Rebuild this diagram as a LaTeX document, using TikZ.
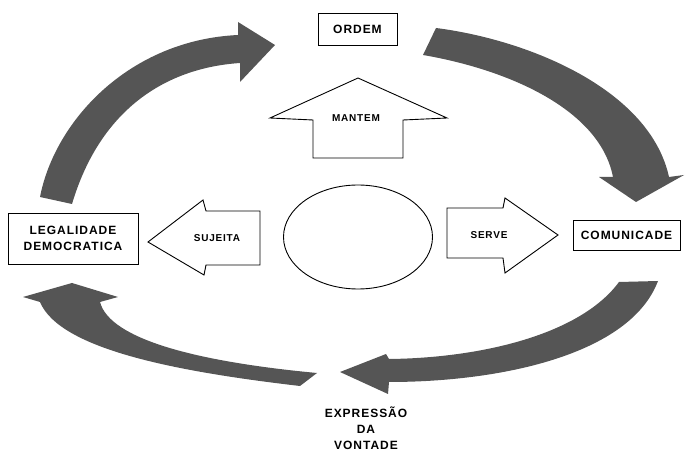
\documentclass[tikz,border=0pt]{standalone}
\usepackage{fontspec}
\setmainfont{Liberation Sans}[LetterSpace=8]
\usetikzlibrary{shapes.geometric}
\definecolor{arrgray}{RGB}{85,85,85}
\tikzset{
  bigarrow/.style={fill=arrgray,draw=none},
  hollow/.style={draw=black,line width=0.9pt,fill=white,line join=miter},
  boxnode/.style={draw=black,line width=0.9pt,inner sep=0pt,align=center,font=\fontsize{12}{16}\selectfont\bfseries},
  lbl/.style={inner sep=0pt,align=center,font=\fontsize{10}{12}\selectfont\bfseries},
  caption/.style={inner sep=0pt,align=center,font=\fontsize{12}{16}\selectfont\bfseries}
}
\begin{document}
\begin{tikzpicture}[x=1pt,y=-1pt]
\useasboundingbox (0,0) rectangle (686,454);
% boxes
\node[boxnode,minimum width=79pt,minimum height=32pt] (ordem) at (357.5,29) {ORDEM};
\node[boxnode,minimum width=130pt,minimum height=51pt] (legal) at (73,238.5) {LEGALIDADE\\DEMOCRATICA};
\node[boxnode,minimum width=107pt,minimum height=30pt] (comun) at (626.5,235) {COMUNICADE};
\node[caption] (expr) at (366,428) {EXPRESSÃO\\DA\\VONTADE};
% centre ellipse
\node[ellipse,draw=black,line width=0.9pt,minimum width=149pt,minimum height=104pt] (ell) at (358,237) {};
% hollow arrows
\draw[hollow] (358,78) -- (447,118) -- (403,120) -- (403,158) -- (313,158) -- (313,120) -- (270,118) -- cycle;
\node[lbl] (mantem) at (356,118) {MANTEM};
\draw[hollow] (148,242) -- (203,200) -- (206,211) -- (260,211) -- (260,265) -- (206,265) -- (204,275) -- cycle;
\node[lbl] (sujeita) at (217,238) {SUJEITA};
\draw[hollow] (447,208) -- (503,208) -- (505,198) -- (558,235) -- (505,273) -- (503,258) -- (447,258) -- cycle;
\node[lbl] (serve) at (489,235) {SERVE};
% big curved arrows
\fill[bigarrow] (40,197) .. controls (55,120) and (130,40) .. (238,35) -- (238,22) -- (275,45) -- (240,82) -- (240,63) .. controls (165,68) and (100,110) .. (72,204) -- cycle;
\fill[bigarrow] (436,28) .. controls (530,40) and (650,90) .. (669,177) -- (684,175) -- (636,202) -- (599,177) -- (613,177) .. controls (600,110) and (510,70) .. (423,55) -- cycle;
\fill[bigarrow] (619,282) -- (658,281) .. controls (630,355) and (500,382) .. (389,382) -- (388,394) -- (340,372) -- (386,354) -- (389,359) .. controls (480,358) and (580,335) .. (619,282) -- cycle;
\fill[bigarrow] (317,373) .. controls (200,362) and (110,340) .. (100,302) -- (118,297) -- (72,283) -- (23,297) -- (40,302) .. controls (60,350) and (180,372) .. (300,386) -- cycle;
\end{tikzpicture}
\end{document}
